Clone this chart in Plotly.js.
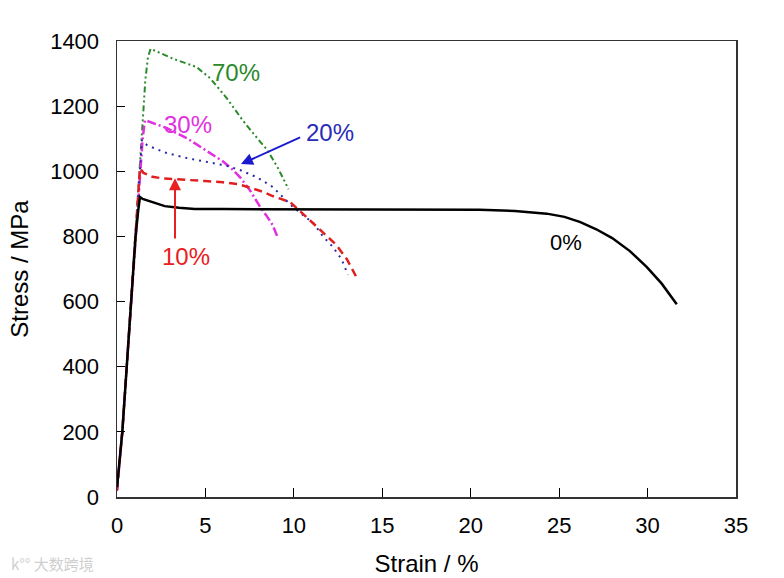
<!DOCTYPE html>
<html>
<head>
<meta charset="utf-8">
<script src="https://cdn.plot.ly/plotly-3.0.1.min.js"></script>
<style>html,body{margin:0;padding:0;background:#fff;}#chart{width:784px;height:578px;}</style>
</head>
<body>
<div id="chart"></div>
<script>
// 0% series
const strain0 = [0.0, 0.3, 0.55, 0.8, 1.05, 1.2, 1.3, 1.45, 2.0, 2.7, 3.5, 4.4, 6, 10, 15, 18, 20.5, 22.5, 24.3, 25.3, 26.2, 27.1, 28.0, 29.0, 29.96, 30.8, 31.65];
const stress0 = [30, 200, 400, 600, 800, 880, 921, 915, 905, 893, 888, 884, 884, 884, 884, 883, 882, 878, 870, 860, 844, 822, 795, 755, 706, 655, 592];
// 10% series
const strain10 = [0.0, 0.3, 0.55, 0.8, 1.05, 1.2, 1.3, 1.5, 2.0, 2.6, 3.7, 5.0, 6.0, 6.8, 7.5, 8.2, 8.8, 9.8, 10.9, 11.5, 12.4, 13.0, 13.57];
const stress10 = [20, 200, 400, 600, 800, 930, 1010, 995, 983, 978, 975, 970, 966, 961, 950, 938, 924, 905, 850, 820, 774, 730, 672];
// 20% series
const strain20 = [0.0, 0.3, 0.55, 0.8, 1.05, 1.25, 1.41, 1.7, 2.8, 4.0, 5.26, 6.2, 6.95, 7.9, 8.8, 9.95, 11.1, 11.65, 12.2, 12.7, 13.06];
const stress20 = [20, 200, 400, 600, 800, 960, 1096, 1080, 1056, 1040, 1028, 1017, 1004, 982, 952, 890, 841, 800, 768, 730, 682];
// 30% series
const strain30 = [0.0, 0.3, 0.55, 0.8, 1.05, 1.3, 1.45, 1.58, 2.0, 2.8, 4.0, 5.26, 6.0, 6.56, 7.0, 7.5, 8.1, 8.5, 8.8, 9.1];
const stress30 = [20, 200, 400, 600, 800, 1000, 1100, 1157, 1148, 1133, 1100, 1056, 1030, 1004, 979, 943, 890, 860, 835, 795];
// 70% series
const strain70 = [0.0, 0.3, 0.55, 0.8, 1.05, 1.3, 1.47, 1.6, 1.75, 1.9, 2.3, 3.2, 4.5, 5.26, 6.2, 7.1, 7.8, 8.5, 9.1, 9.7];
const stress70 = [20, 200, 400, 600, 800, 1000, 1167, 1280, 1350, 1376, 1366, 1345, 1320, 1286, 1225, 1157, 1110, 1065, 1010, 945];

const labels = ['0%', '10%', '20%', '30%', '70%'];
const xTicks = [0, 5, 10, 15, 20, 25, 30, 35];
const yTicks = [0, 200, 400, 600, 800, 1000, 1200, 1400];

const traces = [
  {x: strain70, y: stress70, name: labels[4], mode: 'lines', line: {color: '#2a8a2a', width: 2, dash: '6px,3px,2px,3px,2px,3px'}},
  {x: strain30, y: stress30, name: labels[3], mode: 'lines', line: {color: '#e030e0', width: 2.5, dash: '9px,3px,2px,3px'}},
  {x: strain20, y: stress20, name: labels[2], mode: 'lines', line: {color: '#2a2aa8', width: 2, dash: '2px,5px'}},
  {x: strain10, y: stress10, name: labels[1], mode: 'lines', line: {color: '#e02020', width: 2.5, dash: '8px,5px'}},
  {x: strain0, y: stress0, name: labels[0], mode: 'lines', line: {color: '#000000', width: 2.5}}
];

const fontFam = 'Liberation Sans, Arial, sans-serif';
const layout = {
  width: 784, height: 578,
  margin: {l: 117, r: 48, t: 41, b: 81},
  paper_bgcolor: '#fff', plot_bgcolor: '#fff',
  showlegend: false,
  font: {family: fontFam, color: '#000'},
  xaxis: {
    range: [0, 35], tickvals: xTicks, ticktext: xTicks.map(String),
    ticks: 'inside', ticklen: 9, tickwidth: 1, tickcolor: '#000',
    showline: true, linecolor: '#333', linewidth: 1.5, mirror: true,
    showgrid: false, zeroline: false,
    tickfont: {size: 22, family: fontFam, color: '#000'},
    ticklabelstandoff: 8,
    title: {text: 'Strain / %', font: {size: 24, family: fontFam, color: '#000'}, standoff: 18}
  },
  yaxis: {
    range: [0, 1400], tickvals: yTicks, ticktext: yTicks.map(String),
    ticks: 'inside', ticklen: 8, tickwidth: 1, tickcolor: '#000',
    showline: true, linecolor: '#333', linewidth: 1.5, mirror: true,
    showgrid: false, zeroline: false,
    tickfont: {size: 22, family: fontFam, color: '#000'},
    ticklabelstandoff: 12,
    title: {text: 'Stress / MPa', font: {size: 24, family: fontFam, color: '#000'}, standoff: 14}
  },
  annotations: [
    {x: 6.73, y: 1302, xref: 'x', yref: 'y', text: '70%', showarrow: false, font: {size: 24, color: '#2a8a2a', family: fontFam}},
    {x: 4.0, y: 1145, xref: 'x', yref: 'y', text: '30%', showarrow: false, font: {size: 24, color: '#e030e0', family: fontFam}},
    {x: 12.05, y: 1120, xref: 'x', yref: 'y', text: '20%', showarrow: false, font: {size: 24, color: '#2a2ab8', family: fontFam}},
    {x: 3.9, y: 737, xref: 'x', yref: 'y', text: '10%', showarrow: false, font: {size: 24, color: '#e82020', family: fontFam}},
    {x: 25.4, y: 780, xref: 'x', yref: 'y', text: '0%', showarrow: false, font: {size: 22, color: '#000', family: fontFam}},
    {x: 7.01, y: 1022, xref: 'x', yref: 'y', ax: 10.44, ay: 1106, axref: 'x', ayref: 'y', text: '', showarrow: true, arrowhead: 2, arrowsize: 1.2, arrowwidth: 2, arrowcolor: '#1a1ad0'},
    {x: 3.28, y: 979, xref: 'x', yref: 'y', ax: 3.28, ay: 789, axref: 'x', ayref: 'y', text: '', showarrow: true, arrowhead: 2, arrowsize: 1.2, arrowwidth: 2, arrowcolor: '#e82020'},
    {x: -0.175, y: -0.145, xref: 'paper', yref: 'paper', xanchor: 'left', yanchor: 'middle', text: 'k°° 大数跨境', showarrow: false, font: {size: 15, color: '#cfcfcf', family: 'Noto Sans CJK SC, sans-serif'}}
  ]
};

Plotly.newPlot('chart', traces, layout, {displayModeBar: false, staticPlot: true});
</script>
</body>
</html>
